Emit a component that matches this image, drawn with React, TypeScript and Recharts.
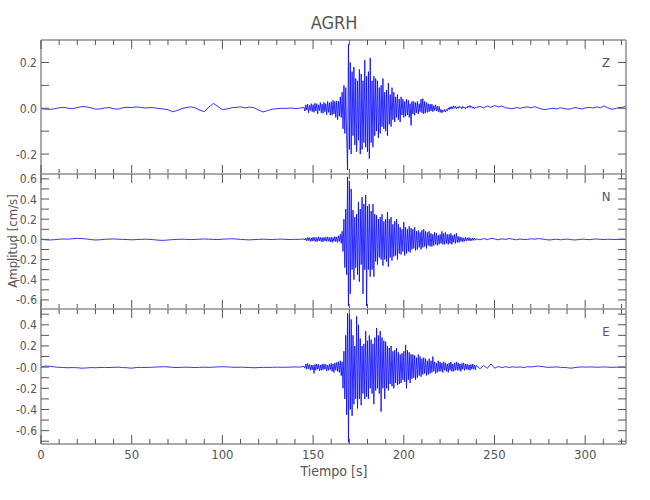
import React from "react"
import { LineChart, Line, XAxis, YAxis } from "recharts"

// time axis (s)
const X_MAX = 322.5
const X_TICKS = [0, 10, 20, 30, 40, 50, 60, 70, 80, 90, 100, 110, 120, 130, 140, 150, 160, 170, 180, 190, 200, 210, 220, 230, 240, 250, 260, 270, 280, 290, 300, 310, 320]
const X_LABELLED = [0, 50, 100, 150, 200, 250, 300]

// the records are read in three pieces: quiet before the event, the event, the coda
const PRE_END = 145
const EVENT_END = 240

// ---- Z component (cm/s)
const Z_PRE = [
  -0.002, -0.004, -0.005, -0.002, 0.002, 0.004, 0.0, -0.002, 0.003, 0.007,
  0.006, 0.002, -0.004, -0.003, 0.001, 0.003, -0.002, -0.004, 0.002, 0.004,
  0.003, 0.006, 0.004, 0.001, 0.003, 0.002, -0.001, -0.003, -0.006, -0.015,
  -0.01, -0.002, 0.003, 0.006, 0.002, -0.008, -0.015, 0.005, 0.021, 0.008,
  -0.006, -0.003, 0.002, 0.004, 0.006, 0.002, 0.005, 0.002, -0.008, -0.016,
  -0.01, -0.004, -0.002, 0.0, -0.001, 0.001, -0.001, 0.0,
]
const Z_EVENT = [
  0.004, -0.012, 0.015, -0.008, 0.018, -0.02, 0.012, -0.01, 0.02, -0.015,
  0.016, -0.018, 0.022, -0.012, 0.02, -0.025, 0.015, -0.01, 0.025, -0.02,
  0.018, -0.022, 0.026, -0.015, 0.02, -0.028, 0.03, -0.018, 0.024, -0.03,
  0.028, -0.03, 0.035, -0.025, 0.03, -0.04, 0.032, -0.05, 0.03, -0.035,
  0.05, -0.04, 0.07, -0.09, 0.1, -0.11, 0.09, -0.12, -0.27, 0.28,
  -0.18, 0.2, -0.2, 0.16, -0.12, 0.18, -0.16, 0.13, -0.19, 0.12,
  -0.14, 0.17, -0.2, 0.15, -0.18, 0.12, -0.15, 0.21, -0.17, 0.14,
  -0.19, 0.16, -0.22, 0.22, -0.15, 0.12, -0.17, 0.14, -0.12, 0.13,
  -0.1, 0.12, -0.13, 0.09, -0.11, 0.1, -0.08, 0.13, -0.09, 0.07,
  -0.1, 0.08, -0.12, 0.11, -0.07, 0.06, -0.08, 0.09, -0.05, 0.07,
  -0.06, 0.05, -0.04, 0.06, -0.05, 0.04, -0.06, 0.05, -0.03, 0.04,
  -0.04, 0.03, -0.035, 0.04, -0.03, 0.035, -0.04, 0.02, -0.075, 0.03,
  -0.025, 0.03, -0.03, 0.025, -0.02, 0.03, -0.025, 0.02, -0.015, 0.04,
  -0.02, 0.042, -0.025, 0.03, -0.02, 0.025, -0.018, 0.02, -0.015, 0.018,
  -0.012, 0.018, -0.015, 0.012, -0.01, 0.015, -0.012, 0.01, -0.015, 0.008,
  -0.018, -0.005, -0.02, -0.008, -0.015, -0.004, -0.016, -0.006, -0.012, 0.002,
  -0.006, 0.006, -0.004, 0.008, -0.002, 0.01, 0.0, 0.008, -0.002, 0.006,
  0.0, 0.009, 0.002, 0.006, -0.002, 0.008, 0.001, 0.005, -0.003, 0.006,
  0.002, 0.01, 0.004, 0.012, 0.003, 0.008, 0.0, 0.006, -0.002, 0.004,
]
const Z_CODA = [
  0.004, 0.008, 0.002, 0.01, 0.004, 0.012, 0.006, 0.01, 0.002, 0.0,
  -0.002, 0.003, 0.0, 0.004, 0.006, 0.002, 0.007, 0.001, -0.004, -0.006,
  -0.002, 0.0, -0.003, 0.002, -0.001, -0.004, -0.002, 0.003, 0.0, -0.003,
  0.002, 0.004, 0.001, 0.006, 0.002, 0.01, 0.002, -0.004, -0.002, 0.003,
  0.004, 0.01,
]

// ---- N component
const N_PRE = [
  0.0, -0.004, -0.006, -0.003, 0.002, 0.004, 0.002, 0.006, 0.01, 0.008,
  0.004, -0.002, -0.006, -0.004, 0.0, 0.003, 0.004, 0.002, 0.0, -0.002,
  -0.004, -0.002, 0.0, 0.002, 0.0, -0.004, -0.008, -0.01, -0.006, -0.002,
  0.0, 0.002, 0.0, -0.002, 0.0, 0.002, 0.004, 0.002, 0.0, -0.002,
  0.002, 0.004, 0.006, 0.004, 0.0, -0.003, -0.005, -0.002, 0.0, 0.002,
  0.0, -0.002, 0.001, 0.003, 0.0, -0.002, 0.001, 0.0,
]
const N_EVENT = [
  0.004, -0.006, 0.012, -0.015, 0.02, -0.012, 0.018, -0.02, 0.015, -0.018,
  0.022, -0.015, 0.02, -0.025, 0.018, -0.02, 0.025, -0.015, 0.02, -0.022,
  0.018, -0.025, 0.02, -0.015, 0.022, -0.02, 0.025, -0.018, 0.02, -0.025,
  0.022, -0.03, 0.018, -0.02, 0.028, -0.022, 0.025, -0.03, 0.035, -0.02,
  0.05, -0.04, 0.08, -0.12, 0.2, -0.28, 0.3, -0.35, 0.62, -0.66,
  0.58, -0.54, 0.5, -0.3, 0.29, -0.4, 0.22, -0.28, 0.25, -0.35,
  0.37, -0.42, 0.3, -0.25, 0.42, -0.54, 0.35, -0.3, 0.44, -0.66,
  0.33, -0.3, 0.35, -0.37, 0.28, -0.3, 0.35, -0.37, 0.25, -0.22,
  0.24, -0.25, 0.2, -0.18, 0.22, -0.2, 0.25, -0.26, 0.18, -0.2,
  0.2, -0.22, 0.27, -0.27, 0.2, -0.18, 0.22, -0.21, 0.15, -0.17,
  0.18, -0.16, 0.2, -0.2, 0.15, -0.14, 0.12, -0.15, 0.1, -0.12,
  0.17, -0.16, 0.12, -0.14, 0.1, -0.12, 0.13, -0.13, 0.11, -0.1,
  0.1, -0.09, 0.12, -0.11, 0.08, -0.1, 0.09, -0.08, 0.07, -0.1,
  0.09, -0.08, 0.1, -0.07, 0.08, -0.09, 0.07, -0.06, 0.08, -0.07,
  0.06, -0.07, 0.05, -0.06, 0.07, -0.05, 0.06, -0.06, 0.04, -0.05,
  0.05, -0.04, 0.08, -0.05, 0.06, -0.05, 0.07, -0.04, 0.05, -0.05,
  0.05, -0.04, 0.06, -0.05, 0.04, -0.03, 0.05, -0.04, 0.06, -0.03,
  0.03, -0.03, 0.025, -0.02, 0.02, -0.025, 0.015, -0.02, 0.02, -0.015,
  0.015, -0.012, 0.018, -0.015, 0.01, -0.012, 0.015, -0.01, 0.012, -0.008,
]
const N_CODA = [
  0.006, -0.004, 0.008, -0.002, 0.01, 0.004, -0.004, 0.006, 0.0, 0.008,
  0.002, -0.004, 0.004, -0.002, 0.0, 0.006, 0.002, 0.008, 0.004, -0.002,
  -0.006, -0.002, 0.002, -0.004, 0.0, 0.003, -0.003, -0.006, -0.002, 0.002,
  0.0, -0.003, 0.002, 0.004, 0.0, -0.002, 0.002, 0.0, -0.002, 0.001,
  0.002, 0.0,
]

// ---- E component
const E_PRE = [
  0.004, 0.01, 0.008, 0.002, -0.002, -0.004, -0.006, -0.004, -0.006, -0.01,
  -0.008, -0.004, -0.006, -0.004, -0.002, -0.004, -0.002, 0.0, -0.004, -0.006,
  -0.01, -0.004, -0.002, -0.004, -0.002, 0.0, 0.002, 0.004, 0.002, -0.002,
  -0.004, -0.002, 0.0, -0.002, -0.004, -0.002, 0.0, -0.002, 0.0, 0.002,
  0.004, 0.002, 0.0, -0.002, 0.0, -0.002, -0.004, -0.006, -0.004, -0.002,
  -0.003, -0.002, 0.0, -0.002, -0.001, 0.0, 0.002, 0.0,
]
const E_EVENT = [
  0.008, -0.01, 0.03, -0.02, 0.035, -0.015, 0.025, -0.03, 0.02, -0.025,
  0.02, -0.06, 0.025, -0.03, 0.03, -0.02, 0.025, -0.035, 0.02, -0.03,
  0.028, -0.025, 0.03, -0.02, 0.025, -0.035, 0.02, -0.03, 0.03, -0.025,
  0.035, -0.04, 0.03, -0.05, 0.04, -0.03, 0.045, -0.04, 0.05, -0.05,
  0.06, -0.08, 0.05, -0.2, 0.15, -0.3, 0.3, -0.45, 0.51, -0.71,
  0.5, -0.4, 0.45, -0.46, 0.3, -0.35, 0.2, -0.3, 0.48, -0.39,
  0.4, -0.3, 0.27, -0.36, 0.2, -0.25, 0.22, -0.3, 0.34, -0.28,
  0.25, -0.3, 0.3, -0.2, 0.26, -0.25, 0.22, -0.35, 0.28, -0.22,
  0.37, -0.2, 0.3, -0.25, 0.34, -0.42, 0.28, -0.2, 0.25, -0.3,
  0.24, -0.2, 0.2, -0.22, 0.18, -0.16, 0.2, -0.18, 0.15, -0.2,
  0.16, -0.15, 0.18, -0.17, 0.14, -0.16, 0.12, -0.15, 0.13, -0.12,
  0.15, -0.14, 0.21, -0.2, 0.16, -0.12, 0.14, -0.15, 0.12, -0.11,
  0.12, -0.1, 0.11, -0.12, 0.09, -0.1, 0.12, -0.08, 0.1, -0.09,
  0.08, -0.07, 0.09, -0.06, 0.08, -0.08, 0.06, -0.07, 0.08, -0.06,
  0.06, -0.05, 0.1, -0.04, 0.05, -0.06, 0.04, -0.05, 0.06, -0.04,
  0.05, -0.04, 0.04, -0.05, 0.05, -0.03, 0.04, -0.04, 0.03, -0.05,
  0.04, -0.03, 0.05, -0.04, 0.03, -0.04, 0.04, -0.03, 0.05, -0.03,
  0.04, -0.03, 0.03, -0.04, 0.035, -0.02, 0.04, -0.03, 0.03, -0.02,
  0.03, -0.025, 0.02, -0.03, 0.025, -0.02, 0.03, -0.02, 0.02, -0.025,
]
const E_CODA = [
  0.018, -0.015, 0.016, -0.012, 0.03, -0.01, 0.006, -0.004, 0.004, -0.003,
  0.003, -0.002, 0.002, -0.004, 0.004, 0.002, 0.006, 0.01, 0.006, 0.0,
  -0.002, 0.0, 0.002, -0.002, -0.003, -0.006, -0.01, -0.004, 0.0, 0.002,
  0.0, 0.002, 0.001, -0.001, 0.0, 0.002, 0.0, -0.002, -0.001, 0.0,
  0.001, 0.0,
]

const Z_TICKS = [-0.2, -0.1, 0, 0.1, 0.2]
const Z_LABELLED = [-0.2, 0, 0.2]
const N_TICKS = [-0.6, -0.5, -0.4, -0.3, -0.2, -0.1, 0, 0.1, 0.2, 0.3, 0.4, 0.5, 0.6]
const N_LABELLED = [-0.6, -0.4, -0.2, 0, 0.2, 0.4, 0.6]
const E_TICKS = [-0.7, -0.6, -0.5, -0.4, -0.3, -0.2, -0.1, 0, 0.1, 0.2, 0.3, 0.4, 0.5]
const E_LABELLED = [-0.6, -0.4, -0.2, 0, 0.2, 0.4]

function buildTrace(pre: number[], event: number[], coda: number[]) {
  const rows: { t: number; v: number }[] = []
  pre.forEach((v, i) => rows.push({ t: (i * PRE_END) / pre.length, v }))
  event.forEach((v, i) =>
    rows.push({ t: PRE_END + (i * (EVENT_END - PRE_END)) / event.length, v })
  )
  coda.forEach((v, i) =>
    rows.push({ t: EVENT_END + (i * (X_MAX - EVENT_END)) / (coda.length - 1), v })
  )
  return rows
}

const FONT = "'DejaVu Sans Condensed', 'Liberation Sans Narrow', 'DejaVu Sans', sans-serif"
const TEXT_STYLE = { fontStretch: "condensed" as const }
const TEXT = "#555"
const FRAME = "#aaaaaa"
const TICK = "#555"
const TRACE = "#0000ff"
const PLOT_LEFT = 41
const PLOT_RIGHT = 626

function XTick(props: any) {
  const { x, y, payload, dir, showLabel } = props
  const v = payload.value
  const len = v % 50 === 0 ? 9 : 5
  return (
    <g>
      <line x1={x} x2={x} y1={y} y2={y + dir * len} stroke={TICK} strokeWidth={1} />
      {showLabel && X_LABELLED.includes(v) && (
        <text x={x} y={y + 15} textAnchor="middle" fontSize={13} fill={TEXT} fontFamily={FONT} style={TEXT_STYLE}>
          {v}
        </text>
      )}
    </g>
  )
}

function YTick(props: any) {
  const { x, y, payload, dir, labelled, zero } = props
  const v = payload.value
  const hasLabel = labelled && labelled.some((l: number) => Math.abs(l - v) < 1e-9)
  const text = Math.abs(v) < 1e-9 ? zero : v.toFixed(1)
  return (
    <g>
      <line x1={x} x2={x + dir * 8} y1={y} y2={y} stroke={TICK} strokeWidth={1} />
      {hasLabel && (
        <text x={x - 4} y={y + 4.5} textAnchor="end" fontSize={12} fill={TEXT} fontFamily={FONT} style={TEXT_STYLE}>
          {text}
        </text>
      )}
    </g>
  )
}

interface PanelProps {
  data: { t: number; v: number }[]
  top: number
  bottom: number
  domain: [number, number]
  ticks: number[]
  labelled: number[]
  zero: string
  showX?: boolean
}

function Panel({ data, top, bottom, domain, ticks, labelled, zero, showX = false }: PanelProps) {
  return (
    <div style={{ position: "absolute", left: 0, top: 0 }}>
      <LineChart
        width={650}
        height={500}
        data={data}
        margin={{ top: top - 1, bottom: 500 - bottom - 1, left: PLOT_LEFT - 1, right: 650 - PLOT_RIGHT - 1 }}
      >
        <XAxis
          xAxisId="b"
          dataKey="t"
          type="number"
          orientation="bottom"
          domain={[0, X_MAX]}
          allowDataOverflow
          ticks={X_TICKS}
          interval={0}
          height={1}
          tickSize={0}
          tickMargin={0}
          tickLine={false}
          axisLine={{ stroke: FRAME, strokeWidth: 2 }}
          tick={(p: any) => <XTick {...p} dir={-1} showLabel={showX} />}
        />
        <XAxis
          xAxisId="t"
          dataKey="t"
          type="number"
          orientation="top"
          domain={[0, X_MAX]}
          allowDataOverflow
          ticks={X_TICKS}
          interval={0}
          height={1}
          tickSize={0}
          tickMargin={0}
          tickLine={false}
          axisLine={{ stroke: FRAME, strokeWidth: 2 }}
          tick={(p: any) => <XTick {...p} dir={1} showLabel={false} />}
        />
        <YAxis
          yAxisId="l"
          type="number"
          orientation="left"
          domain={domain}
          allowDataOverflow
          ticks={ticks}
          interval={0}
          width={1}
          tickSize={0}
          tickMargin={0}
          tickLine={false}
          axisLine={{ stroke: FRAME, strokeWidth: 2 }}
          tick={(p: any) => <YTick {...p} dir={1} labelled={labelled} zero={zero} />}
        />
        <YAxis
          yAxisId="r"
          type="number"
          orientation="right"
          domain={domain}
          allowDataOverflow
          ticks={ticks}
          interval={0}
          width={1}
          tickSize={0}
          tickMargin={0}
          tickLine={false}
          axisLine={{ stroke: FRAME, strokeWidth: 2 }}
          tick={(p: any) => <YTick {...p} dir={-1} labelled={null} zero={zero} />}
        />
        <Line
          xAxisId="b"
          yAxisId="l"
          dataKey="v"
          type="linear"
          stroke={TRACE}
          strokeWidth={0.8}
          dot={false}
          isAnimationActive={false}
        />
      </LineChart>
    </div>
  )
}

export default function App() {
  const z = buildTrace(Z_PRE, Z_EVENT, Z_CODA)
  const n = buildTrace(N_PRE, N_EVENT, N_CODA)
  const e = buildTrace(E_PRE, E_EVENT, E_CODA)
  return (
    <div style={{ position: "absolute", left: 0, top: 0, width: 650, height: 500, background: "#fff" }}>
      <Panel data={z} top={40} bottom={174} domain={[-0.287, 0.298]} ticks={Z_TICKS} labelled={Z_LABELLED} zero="0.0" />
      <Panel data={n} top={174} bottom={309} domain={[-0.69, 0.648]} ticks={N_TICKS} labelled={N_LABELLED} zero="-0.0" />
      <Panel data={e} top={309} bottom={444} domain={[-0.726, 0.549]} ticks={E_TICKS} labelled={E_LABELLED} zero="-0.0" showX />
      <svg width={650} height={500} style={{ position: "absolute", left: 0, top: 0, pointerEvents: "none" }}>
        <text x={334} y={29} textAnchor="middle" fontSize={18} fill={TEXT} fontFamily={FONT} style={TEXT_STYLE}>
          AGRH
        </text>
        <text x={334} y={476} textAnchor="middle" fontSize={14} fill={TEXT} fontFamily={FONT} style={TEXT_STYLE}>
          Tiempo [s]
        </text>
        <text
          x={17}
          y={241}
          textAnchor="middle"
          fontSize={13}
          fill={TEXT}
          fontFamily={FONT}
          style={TEXT_STYLE}
          transform="rotate(-90 17 241)"
        >
          Amplitud [cm/s]
        </text>
        <text x={606} y={67} textAnchor="middle" fontSize={13} fill={TEXT} fontFamily={FONT} style={TEXT_STYLE}>Z</text>
        <text x={606} y={201} textAnchor="middle" fontSize={13} fill={TEXT} fontFamily={FONT} style={TEXT_STYLE}>N</text>
        <text x={606} y={336} textAnchor="middle" fontSize={13} fill={TEXT} fontFamily={FONT} style={TEXT_STYLE}>E</text>
      </svg>
    </div>
  )
}
